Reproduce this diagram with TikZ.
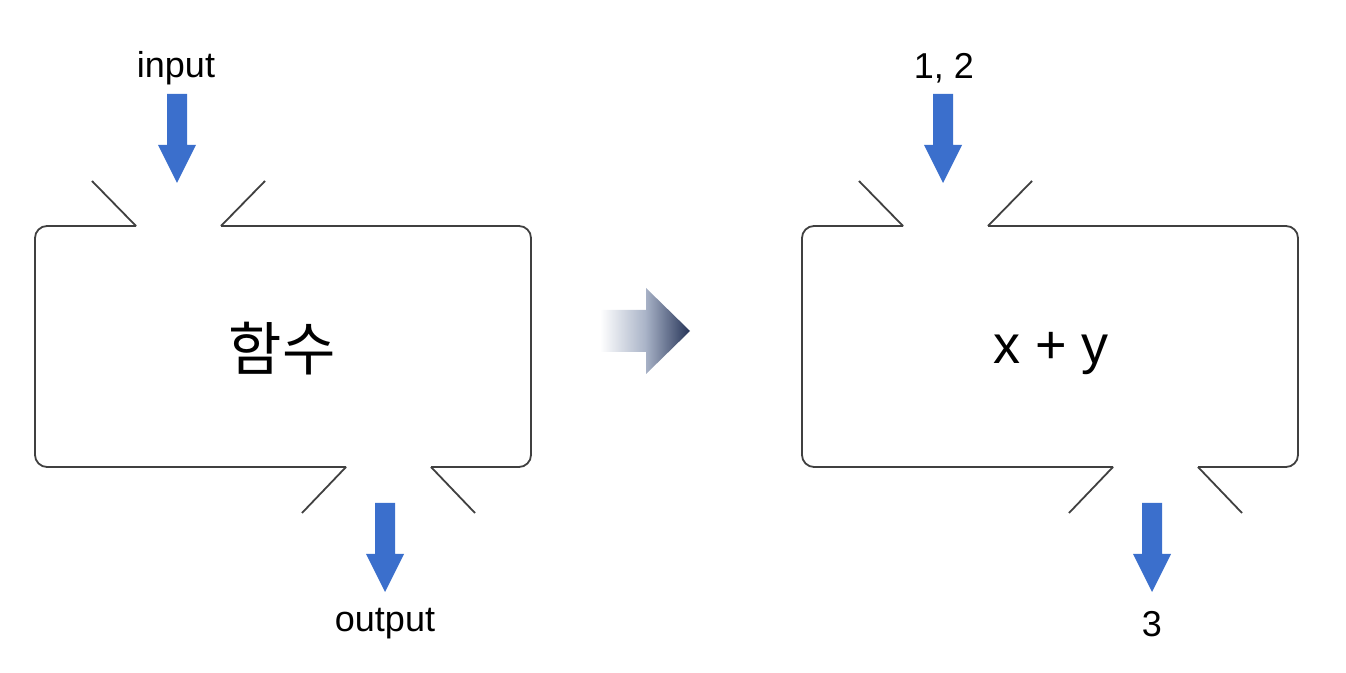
\documentclass[tikz,border=0pt]{standalone}
\usepackage{fontspec}
\setmainfont{Liberation Sans}
\newfontfamily\kofont{Noto Sans CJK KR}
\definecolor{arrblue}{RGB}{59,111,204}
\definecolor{boxline}{RGB}{64,64,64}
\definecolor{navy}{RGB}{38,52,88}
\begin{document}
\begin{tikzpicture}[x=0.5pt,y=-0.5pt,
  boxedge/.style={draw=boxline,line width=0.9pt,rounded corners=6pt},
  flap/.style={draw=boxline,line width=0.9pt},
  lbl/.style={font=\fontsize{18}{20}\selectfont,inner sep=0pt},
  big/.style={font=\fontsize{27}{30}\selectfont,inner sep=0pt}]
\useasboundingbox (0,0) rectangle (1346,673);
\tikzset{downarrow/.pic={\fill[arrblue] (-10,0) -- (10,0) -- (10,51) -- (19,51) -- (0,89) -- (-19,51) -- (-10,51) -- cycle;}}
% ---------- left box ----------
\draw[boxedge] (136,226) -- (35,226) -- (35,467) -- (346,467);
\draw[boxedge] (431,467) -- (531,467) -- (531,226) -- (221,226);
\draw[flap] (136,226) -- (92,181);
\draw[flap] (221,226) -- (265,181);
\draw[flap] (346,467) -- (302,513);
\draw[flap] (431,467) -- (475,513);
\node[lbl] (inL) at (176,68) {input};
\pic at (177,94) {downarrow};
\pic at (385,503) {downarrow};
\node[lbl] (outL) at (385,624) {output};
\node[big,font=\fontsize{29}{32}\selectfont] (funcL) at (282,349) {\kofont 함수};
% ---------- middle arrow ----------
\shade[left color=white,right color=navy,middle color={rgb,255:red,170;green,180;blue,200}]
  (600,310) -- (646,310) -- (646,288) -- (690,331) -- (646,374) -- (646,352) -- (600,352) -- cycle;
% ---------- right box ----------
\draw[boxedge] (903,226) -- (802,226) -- (802,467) -- (1113,467);
\draw[boxedge] (1198,467) -- (1298,467) -- (1298,226) -- (988,226);
\draw[flap] (903,226) -- (859,181);
\draw[flap] (988,226) -- (1032,181);
\draw[flap] (1113,467) -- (1069,513);
\draw[flap] (1198,467) -- (1242,513);
\node[lbl] (inR) at (944,68) {1, 2};
\pic at (943,94) {downarrow};
\pic at (1152,503) {downarrow};
\node[lbl] (outR) at (1152,624) {3};
\node[big] (funcR) at (1051,354) {x + y};
\end{tikzpicture}
\end{document}
